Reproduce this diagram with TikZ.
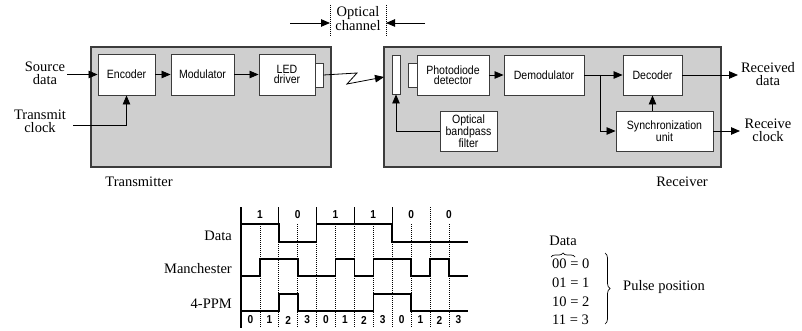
\documentclass[tikz,border=0pt]{standalone}
\usepackage{fontspec}
\setmainfont{Liberation Serif}
\newfontfamily\condsf[FakeStretch=0.88]{Liberation Sans}
\usetikzlibrary{arrows.meta,decorations.pathreplacing,calc}
\definecolor{panel}{RGB}{207,207,207}
\definecolor{edge}{RGB}{60,60,60}
\begin{document}
\begin{tikzpicture}[x=1pt,y=-1pt,
  panelbox/.style={draw=edge,line width=1.2pt,fill=panel},
  blk/.style={draw=edge,line width=0.9pt,fill=white,inner sep=0pt,align=center,
    font=\condsf\fontsize{12}{10.5}\selectfont},
  lbl/.style={font=\fontsize{14.5}{13}\selectfont,align=center,inner sep=0pt},
  conn/.style={line width=0.8pt,-{Triangle[length=9pt,width=7.5pt]}},
  wire/.style={line width=0.8pt},
  sig/.style={line width=1.6pt,line join=miter},
  tick/.style={line width=0.8pt,dash pattern=on 1pt off 1pt},
  bitlbl/.style={font=\condsf\bfseries\fontsize{11.5}{12}\selectfont,inner sep=0pt}]

\useasboundingbox (0,0) rectangle (802,331);

% ---------- transmitter ----------
\draw[panelbox] (91,47) rectangle (331,167);
\node[blk,minimum width=57pt,minimum height=41pt] (enc) at (126.5,74.5) {Encoder};
\node[blk,minimum width=63pt,minimum height=41pt] (mod) at (202.5,74.5) {Modulator};
\node[blk,minimum width=56pt,minimum height=41pt] (led) at (287,74.5) {LED\\driver};
\node[blk,minimum width=8pt,minimum height=24pt] (ledtip) at (319,75) {};

\node[lbl] (srclbl) at (45,73) {Source\\data};
\node[lbl] (clklbl) at (40,121) {Transmit\\clock};
\node[lbl] (txlbl) at (139,182) {Transmitter};
\coordinate (srcin) at (67,74.5);
\coordinate (clkin) at (73,125);
\draw[conn] (srcin) -- (enc.west);
\draw[conn] (clkin) -| (enc.south);
\draw[conn] (enc.east) -- (mod.west);
\draw[conn] (mod.east) -- (led.west);

% ---------- optical channel ----------
\draw[tick,line width=0.6pt] (330,5) -- (330,37);
\draw[tick,line width=0.6pt] (386,5) -- (386,37);
\node[lbl] (chlbl) at (358,18.5) {Optical\\channel};
\coordinate (chl) at (290,23);
\coordinate (chr) at (425,23);
\draw[conn] (chl) -- (330,23);
\draw[conn] (chr) -- (386,23);

% ---------- receiver ----------
\draw[panelbox] (384,47) rectangle (721,167);
\node[blk,minimum width=8pt,minimum height=39pt] (flt) at (396,74.5) {};
\node[blk,minimum width=9pt,minimum height=24pt] (pdtip) at (412.5,75) {};
\node[blk,minimum width=72pt,minimum height=40pt] (pd) at (453,75) {Photodiode\\detector};
\node[blk,minimum width=80pt,minimum height=40pt] (dem) at (544,75) {Demodulator};
\node[blk,minimum width=59pt,minimum height=40pt] (dec) at (652.5,75) {Decoder};
\node[blk,minimum width=97pt,minimum height=40pt] (syn) at (664.5,131) {Synchronization\\unit};
\node[blk,minimum width=57pt,minimum height=40pt,font=\condsf\fontsize{12}{11}\selectfont] (obf) at (468.5,131) {Optical\\bandpass\\filter};

\node[lbl] (rdlbl) at (768,74) {Received\\data};
\node[lbl] (rclbl) at (768,130) {Receive\\clock};
\node[lbl] (rxlbl) at (682,182) {Receiver};

% light path from the LED to the receiver
\coordinate (z1) at (357,73);
\coordinate (z2) at (347,84);
\coordinate (rxin) at (384,77);
\draw[conn,line join=miter] (ledtip.east) -- (z1) -- (z2) -- (rxin);

\coordinate (split) at (600,75);
\coordinate (rdout) at (738,75);
\coordinate (rcout) at (740,131);
\draw[conn] (pd.east) -- (dem.west);
\draw[wire] (dem.east) -- (split);
\draw[conn] (split) -- (dec.west);
\draw[conn] (split) |- (syn.west);
\draw[conn] (dec.south |- syn.north) -- (dec.south);
\draw[conn] (dec.east) -- (rdout);
\draw[conn] (syn.east) -- (rcout);
\draw[conn] (obf.west) -| (flt.south);

% ---------- waveforms ----------
\node[lbl,anchor=base east] (wdata) at (232,240) {Data};
\node[lbl,anchor=base east] (wman) at (232,273) {Manchester};
\node[lbl,anchor=base east] (wppm) at (232,308) {4-PPM};

\foreach \i in {1,...,11}
  \draw[tick] ({241+18.9*\i},224) -- ({241+18.9*\i},328);
\foreach \i in {1,...,4}
  \draw[line width=1.2pt] ({241+37.8*\i},207) -- ({241+37.8*\i},224);
\draw[tick,line width=0.6pt] (430,207) -- (430,224);
\draw[line width=1.4pt] (241,207) -- (241,328);

\foreach \b [count=\i from 0] in {1,0,1,1,0,0}
  \node[bitlbl] (bit\i) at ({241+37.8*\i+18.9},215) {\b};
\foreach \j in {0,...,11}{
  \pgfmathtruncatemacro{\s}{mod(\j,4)}
  \node[bitlbl] (slot\j) at ({241+18.9*\j+9.45},320) {\s};
}

\draw[sig] (241,224) -- (278.8,224) -- (278.8,242) -- (316.6,242) -- (316.6,224)
  -- (392.2,224) -- (392.2,242) -- (468,242);
\draw[sig] (241,276) -- (259.9,276) -- (259.9,259) -- (297.7,259) -- (297.7,276)
  -- (335.5,276) -- (335.5,259) -- (354.4,259) -- (354.4,276) -- (373.3,276)
  -- (373.3,259) -- (411.1,259) -- (411.1,276) -- (430,276) -- (430,259)
  -- (448.9,259) -- (448.9,276) -- (468,276);
\draw[sig] (241,311) -- (278.8,311) -- (278.8,294) -- (297.7,294) -- (297.7,311)
  -- (373.3,311) -- (373.3,294) -- (411.1,294) -- (411.1,311) -- (468,311);

% ---------- 4-PPM code table ----------
\node[lbl,anchor=base] (tdata) at (563,245) {Data};
\draw[line width=0.7pt,decorate,decoration={brace,amplitude=4pt}] (551,257) -- (575,257);
\node[lbl,anchor=base west] (t0) at (552,268) {00 = 0};
\node[lbl,anchor=base west] (t1) at (552,287) {01 = 1};
\node[lbl,anchor=base west] (t2) at (552,306) {10 = 2};
\node[lbl,anchor=base west] (t3) at (552,324) {11 = 3};
\draw[line width=0.7pt,decorate,decoration={brace,amplitude=5pt}] (605,253) -- (605,324);
\node[lbl,anchor=base west] (pulse) at (623,290) {Pulse position};
\end{tikzpicture}
\end{document}
